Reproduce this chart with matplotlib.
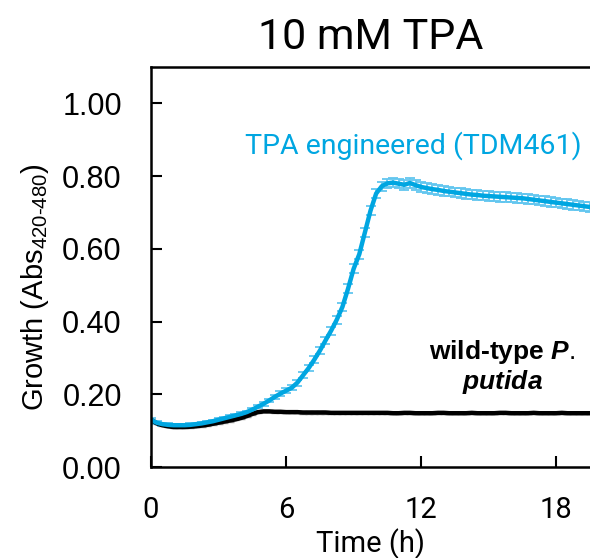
import numpy as np
import matplotlib.pyplot as plt

# readings every 15 min
time_h = np.arange(0, 19.51, 0.25)

tpa_engineered = [
    0.130, 0.122, 0.118, 0.116, 0.115, 0.115, 0.115, 0.116, 0.118, 0.120,
    0.123, 0.126, 0.130, 0.134, 0.138, 0.142, 0.146, 0.151, 0.158, 0.166,
    0.174, 0.183, 0.193, 0.202, 0.210, 0.218, 0.232, 0.252, 0.272, 0.295,
    0.320, 0.348, 0.375, 0.405, 0.440, 0.490, 0.545, 0.585, 0.645, 0.705,
    0.752, 0.772, 0.780, 0.782, 0.779, 0.776, 0.781, 0.775, 0.770, 0.767,
    0.764, 0.762, 0.759, 0.757, 0.755, 0.753, 0.751, 0.749, 0.748, 0.746,
    0.745, 0.744, 0.743, 0.742, 0.741, 0.740, 0.739, 0.737, 0.735, 0.733,
    0.731, 0.729, 0.727, 0.725, 0.723, 0.721, 0.719, 0.717, 0.715]
tpa_err = [
    0.004, 0.004, 0.004, 0.004, 0.004, 0.004, 0.004, 0.004, 0.004, 0.004,
    0.004, 0.004, 0.004, 0.004, 0.004, 0.004, 0.004, 0.004, 0.004, 0.004,
    0.005, 0.005, 0.006, 0.006, 0.007, 0.007, 0.008, 0.008, 0.009, 0.009,
    0.010, 0.010, 0.011, 0.011, 0.012, 0.012, 0.012, 0.012, 0.012, 0.013,
    0.013, 0.013, 0.013, 0.013, 0.013, 0.013, 0.013, 0.013, 0.013, 0.013,
    0.013, 0.013, 0.013, 0.013, 0.013, 0.013, 0.013, 0.013, 0.013, 0.013,
    0.013, 0.013, 0.013, 0.013, 0.013, 0.013, 0.013, 0.013, 0.013, 0.013,
    0.013, 0.013, 0.013, 0.013, 0.013, 0.013, 0.013, 0.013, 0.013]

wild_type = [
    0.130, 0.120, 0.115, 0.112, 0.110, 0.110, 0.110, 0.111, 0.112, 0.114,
    0.116, 0.119, 0.122, 0.125, 0.128, 0.131, 0.135, 0.140, 0.146, 0.151,
    0.153, 0.153, 0.152, 0.152, 0.151, 0.151, 0.151, 0.150, 0.150, 0.150,
    0.150, 0.150, 0.149, 0.149, 0.149, 0.149, 0.149, 0.149, 0.149, 0.149,
    0.149, 0.149, 0.149, 0.148, 0.148, 0.149, 0.149, 0.148, 0.148, 0.148,
    0.148, 0.149, 0.149, 0.148, 0.148, 0.148, 0.148, 0.149, 0.148, 0.148,
    0.148, 0.148, 0.149, 0.149, 0.148, 0.148, 0.148, 0.148, 0.149, 0.148,
    0.148, 0.148, 0.148, 0.149, 0.148, 0.148, 0.148, 0.148, 0.148]
wt_err = [
    0.003, 0.003, 0.003, 0.003, 0.003, 0.003, 0.003, 0.003, 0.003, 0.003,
    0.003, 0.003, 0.003, 0.003, 0.003, 0.003, 0.003, 0.003, 0.003, 0.003,
    0.003, 0.003, 0.003, 0.003, 0.003, 0.003, 0.003, 0.003, 0.003, 0.003,
    0.003, 0.003, 0.003, 0.003, 0.003, 0.003, 0.003, 0.003, 0.003, 0.003,
    0.003, 0.003, 0.003, 0.003, 0.003, 0.003, 0.003, 0.003, 0.003, 0.003,
    0.003, 0.003, 0.003, 0.003, 0.003, 0.003, 0.003, 0.003, 0.003, 0.003,
    0.003, 0.003, 0.003, 0.003, 0.003, 0.003, 0.003, 0.003, 0.003, 0.003,
    0.003, 0.003, 0.003, 0.003, 0.003, 0.003, 0.003, 0.003, 0.003]

x_ticks = [0, 6, 12, 18]
y_ticks = [0.0, 0.2, 0.4, 0.6, 0.8, 1.0]

blue = '#00a6e1'
light_blue = '#62c6ef'

plt.rcParams['font.family'] = 'Liberation Sans'
plt.rcParams['mathtext.fontset'] = 'custom'
plt.rcParams['mathtext.rm'] = 'Liberation Sans'
plt.rcParams['mathtext.it'] = 'Liberation Sans:italic:bold'

fig = plt.figure(figsize=(5.9, 5.58), dpi=100)
ax = fig.add_axes([0.256, 0.163, 0.744, 0.717])

ax.errorbar(time_h, wild_type, yerr=wt_err, color='black', lw=3.2,
            ecolor='#9a9a9a', elinewidth=1, capsize=3, capthick=1)
ax.errorbar(time_h, tpa_engineered, yerr=tpa_err, color=blue, lw=3.2,
            ecolor=light_blue, elinewidth=1.3, capsize=3.6, capthick=1.3)

ax.set_xlim(0, 19.5)
ax.set_ylim(0, 1.1)
ax.set_xticks(x_ticks)
ax.set_yticks(y_ticks)
ax.set_yticklabels([f'{v:.2f}' for v in y_ticks], fontsize=22)
ax.set_xticklabels([str(v) for v in x_ticks], fontsize=21, family='Roboto')
ax.tick_params(direction='in', length=8, width=1.5, pad=21)

for s in ['left', 'bottom', 'top']:
    ax.spines[s].set_linewidth(1.8)
ax.spines['right'].set_visible(False)

ax.set_title('10 mM TPA', fontsize=31, family='Roboto', pad=13)
ax.set_xlabel('Time (h)', fontsize=21, family='Roboto')
ax.xaxis.set_label_coords(0.5, -0.152)
ax.set_ylabel('Growth (Abs$_{\\mathregular{420\u2010480}}$)', fontsize=21)
ax.yaxis.set_label_coords(-0.228, 0.45)

ax.text(11.65, 0.885, 'TPA engineered (TDM461)', color=blue, fontsize=20.5,
        family='Roboto', ha='center', va='center')
ax.text(15.6, 0.276, 'wild-type $\\it{P.}$\n$\\it{putida}$', fontsize=19,
        fontweight='bold', ha='center', va='center', linespacing=1.1)

fig.savefig('out.png', dpi=100)
